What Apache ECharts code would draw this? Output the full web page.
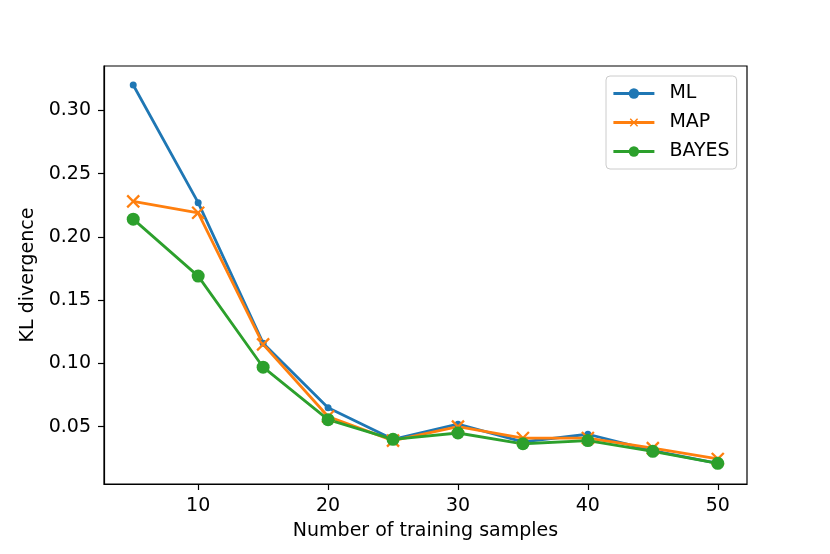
<!DOCTYPE html>
<html>
<head>
<meta charset="utf-8">
<script src="https://cdn.jsdelivr.net/npm/echarts@6/dist/echarts.min.js"></script>
<style>html,body{margin:0;padding:0;background:#fff;}#c{width:830px;height:554px;}</style>
</head>
<body>
<div id="c"></div>
<script>
const samples = [5, 10, 15, 20, 25, 30, 35, 40, 45, 50];
const mlValues = [0.320, 0.227, 0.116, 0.065, 0.040, 0.052, 0.038, 0.044, 0.031, 0.021];
const mapValues = [0.228, 0.219, 0.115, 0.058, 0.039, 0.050, 0.041, 0.041, 0.033, 0.0245];
const bayesValues = [0.214, 0.169, 0.097, 0.0555, 0.040, 0.045, 0.0365, 0.039, 0.0305, 0.021];
const xTicks = [10, 20, 30, 40, 50];
const yTicks = [0.05, 0.10, 0.15, 0.20, 0.25, 0.30];

const font = 'DejaVu Sans';
const fs = 19;
const pair = (vals) => samples.map((s, i) => [s, vals[i]]);
const xPath = 'path://M5.2,0L6.8,0L6.8,5.2L12,5.2L12,6.8L6.8,6.8L6.8,12L5.2,12L5.2,6.8L0,6.8L0,5.2L5.2,5.2Z';

const chart = echarts.init(document.getElementById('c'));
chart.setOption({
  animation: false,
  backgroundColor: '#fff',
  textStyle: { fontFamily: font },
  grid: { left: 104, right: 83, top: 66, bottom: 70, show: true, borderColor: '#000', borderWidth: 1.2, backgroundColor: 'transparent' },
  legend: {
    orient: 'vertical',
    left: 606, top: 76,
    padding: [8, 7, 8, 6],
    itemWidth: 41, itemHeight: 13, itemGap: 10,
    backgroundColor: 'rgba(255,255,255,0.8)',
    borderColor: '#cccccc', borderWidth: 1, borderRadius: 4,
    lineStyle: { width: 2.8 },
    textStyle: { fontFamily: font, fontSize: fs, color: '#000', padding: [0, 0, 0, 10] },
    data: ['ML', 'MAP', 'BAYES']
  },
  xAxis: {
    type: 'value', min: 2.75, max: 52.25,
    name: 'Number of training samples', nameLocation: 'middle', nameGap: 38,
    nameTextStyle: { fontFamily: font, fontSize: fs, color: '#000' },
    splitLine: { show: false },
    axisLine: { show: true, onZero: false, lineStyle: { color: '#000', width: 1.2 } },
    axisTick: { show: true, inside: false, length: 6, customValues: xTicks, lineStyle: { color: '#000', width: 1.2 } },
    axisLabel: { customValues: xTicks, margin: 13, fontFamily: font, fontSize: fs, color: '#000' }
  },
  yAxis: {
    type: 'value', min: 0.0047, max: 0.335,
    name: 'KL divergence', nameLocation: 'middle', nameGap: 66, nameRotate: 90,
    nameTextStyle: { fontFamily: font, fontSize: fs, color: '#000' },
    splitLine: { show: false },
    axisLine: { show: true, onZero: false, lineStyle: { color: '#000', width: 1.2 } },
    axisTick: { show: true, inside: false, length: 6, customValues: yTicks, lineStyle: { color: '#000', width: 1.2 } },
    axisLabel: { customValues: yTicks, margin: 13, fontFamily: font, fontSize: fs, color: '#000', formatter: v => v.toFixed(2) }
  },
  series: [
    {
      name: 'ML', type: 'line', data: pair(mlValues),
      symbol: 'circle', symbolSize: 7,
      lineStyle: { color: '#1f77b4', width: 2.8 },
      itemStyle: { color: '#1f77b4' }
    },
    {
      name: 'MAP', type: 'line', data: pair(mapValues),
      symbol: xPath, symbolSize: 17, symbolRotate: 45,
      lineStyle: { color: '#ff7f0e', width: 2.8 },
      itemStyle: { color: '#ff7f0e' }
    },
    {
      name: 'BAYES', type: 'line', data: pair(bayesValues),
      symbol: 'circle', symbolSize: 13,
      lineStyle: { color: '#2ca02c', width: 2.8 },
      itemStyle: { color: '#2ca02c' }
    }
  ]
});
</script>
</body>
</html>
